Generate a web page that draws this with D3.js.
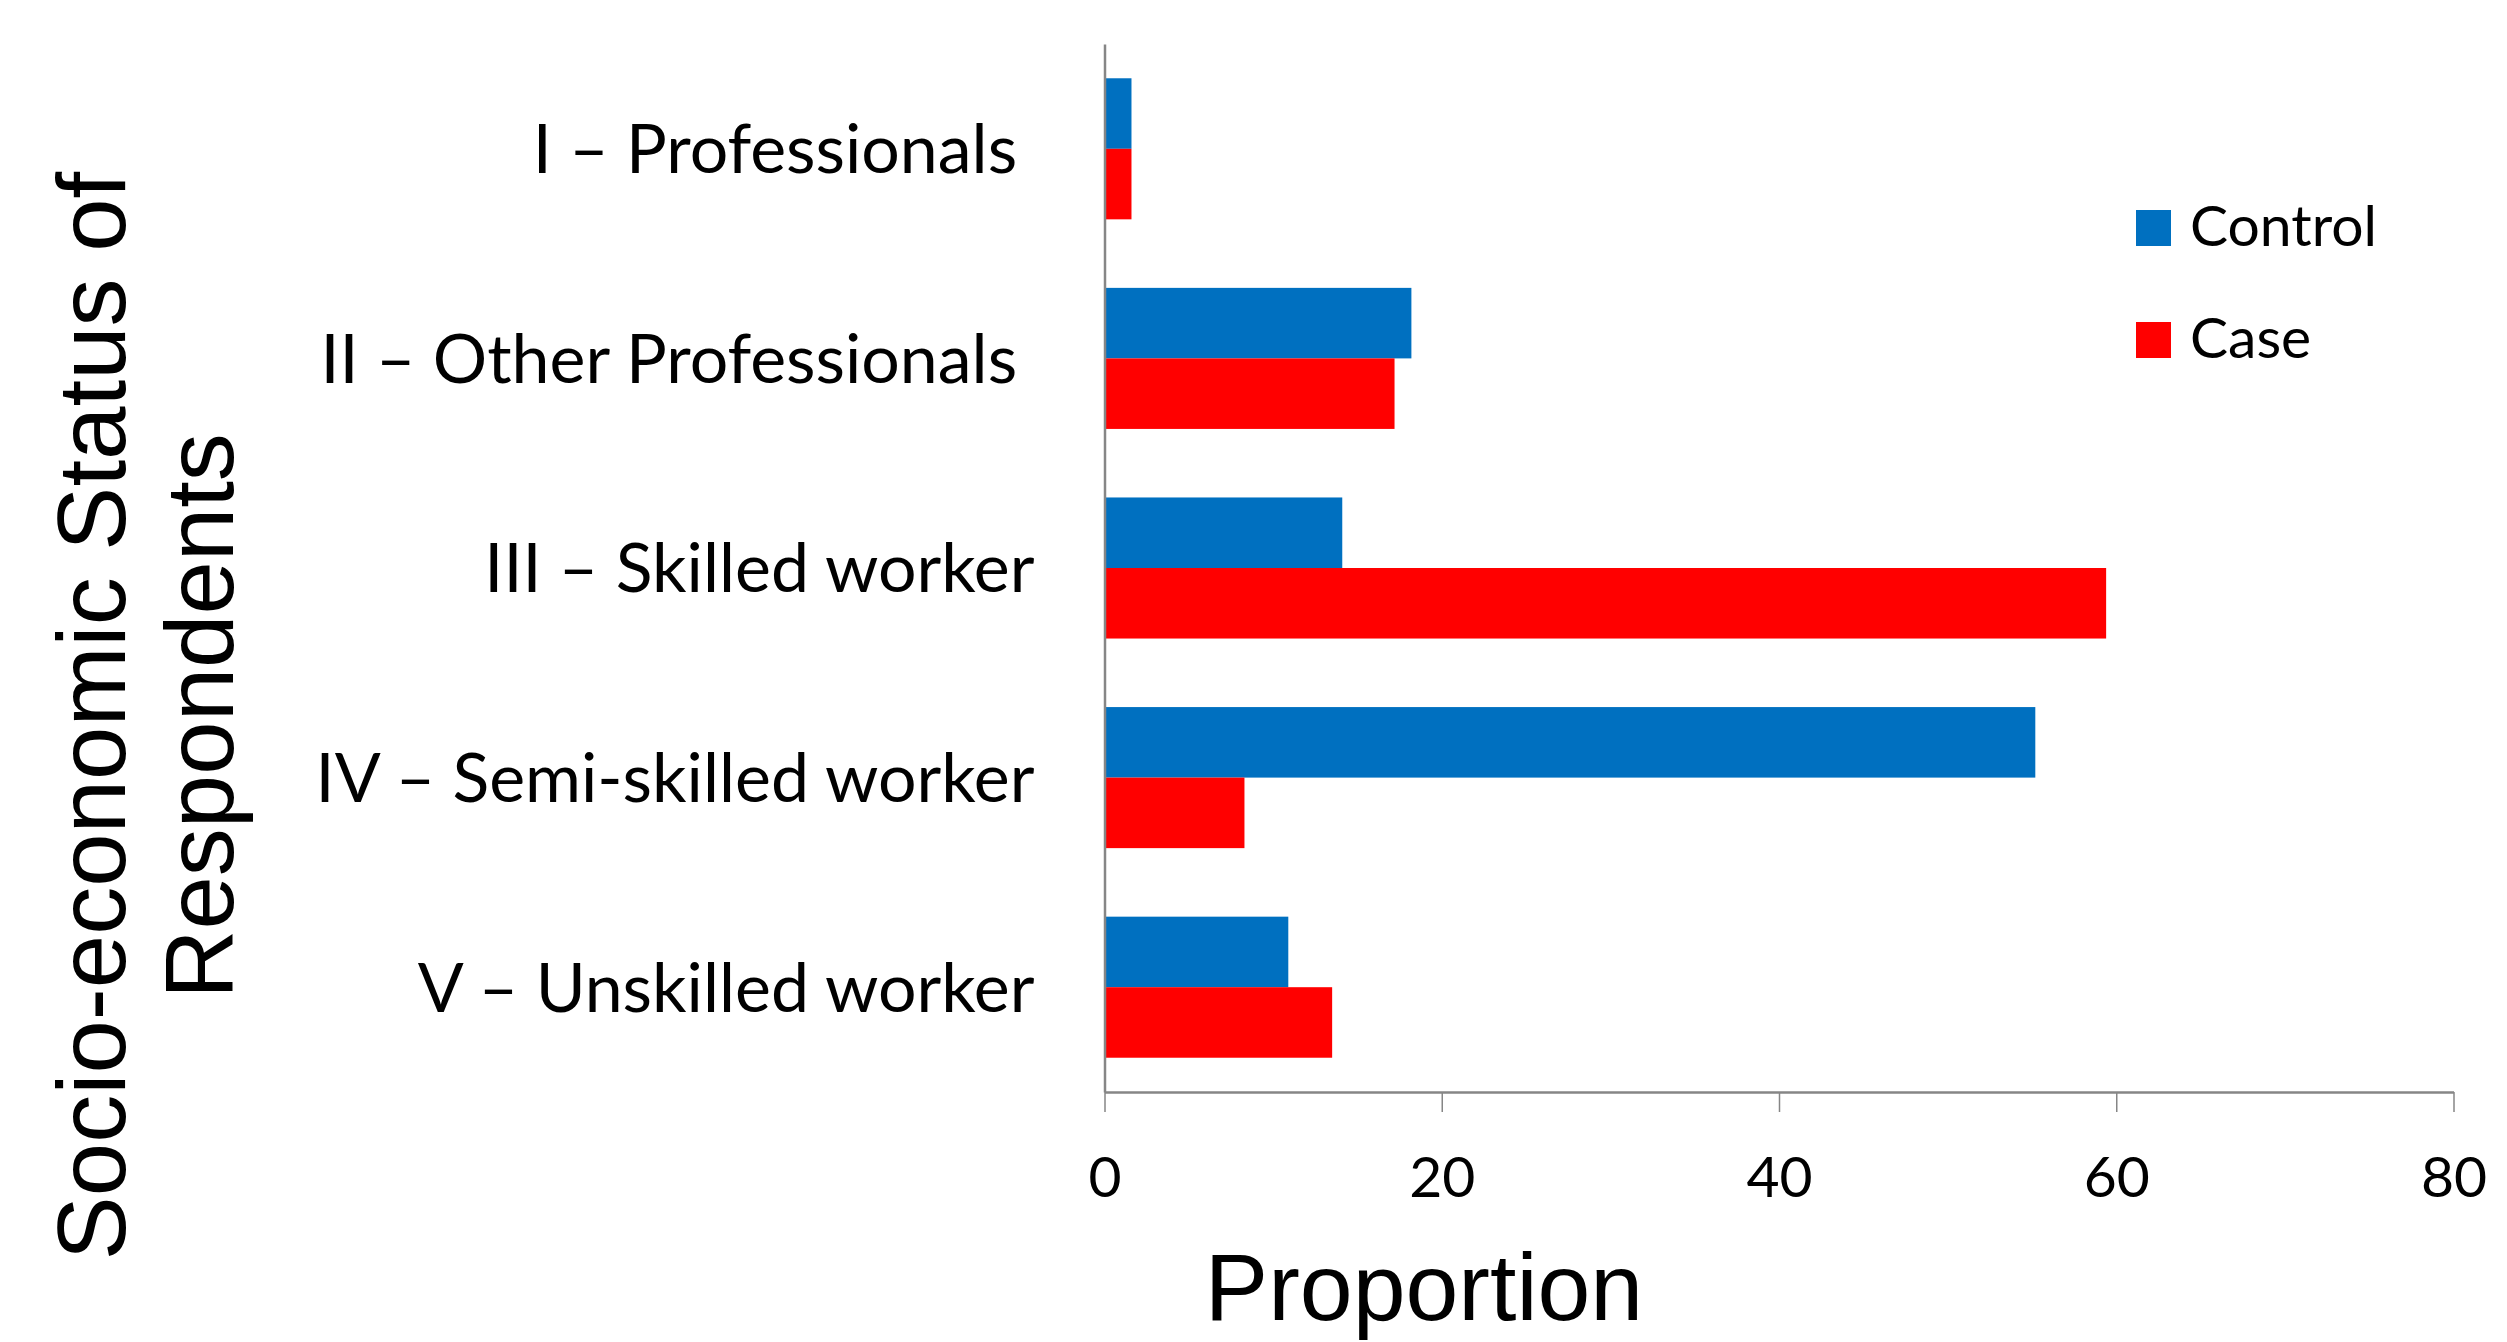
<!DOCTYPE html>
<html>
<head>
<meta charset="utf-8">
<script src="https://cdn.jsdelivr.net/npm/d3@7"></script>
<style>
  html, body { margin: 0; padding: 0; background: #ffffff; }
  svg { display: block; }
</style>
</head>
<body>
<svg id="chart" width="2507" height="1342"></svg>
<script>
// ---- data ----
const categories = [
  "I \u2013 Professionals ",
  "II \u2013 Other Professionals ",
  "III \u2013 Skilled worker",
  "IV \u2013 Semi-skilled worker",
  "V \u2013 Unskilled worker"
];
const seriesNames = ["Control", "Case"];
const controlValues = [1.6, 18.2, 14.1, 55.2, 10.9];
const caseValues = [1.6, 17.2, 59.4, 8.3, 13.5];
const xTicks = [0, 20, 40, 60, 80];
const xTitle = "Proportion";
const yTitleLines = ["Socio-economic Status of", "Respondents"];
const colors = { Control: "#0070C0", Case: "#FF0000" };

// ---- layout ----
const plot = { left: 1104.5, right: 2453.5, top: 44, bottom: 1092 };
const svg = d3.select("#chart");

const x = d3.scaleLinear().domain([0, 80]).range([plot.left, plot.right]);
const y = d3.scaleBand().domain(categories).range([plot.top, plot.bottom])
  .paddingInner(0.327).paddingOuter(0.1635);
const ySub = d3.scaleBand().domain(seriesNames).range([0, y.bandwidth()]);

const rows = categories.map((c, i) => ({ cat: c, Control: controlValues[i], Case: caseValues[i] }));

// bars
const groups = svg.append("g").selectAll("g").data(rows).join("g")
  .attr("transform", d => `translate(0,${y(d.cat)})`);
groups.selectAll("rect")
  .data(d => seriesNames.map(s => ({ s, v: d[s] })))
  .join("rect")
  .attr("x", x(0))
  .attr("y", d => ySub(d.s))
  .attr("width", d => x(d.v) - x(0))
  .attr("height", ySub.bandwidth())
  .attr("fill", d => colors[d.s]);

// x axis
const xAxis = svg.append("g")
  .attr("transform", `translate(0,${plot.bottom})`)
  .call(d3.axisBottom(x).tickValues(xTicks).tickSizeInner(20).tickSizeOuter(0).tickPadding(44));
xAxis.select(".domain").attr("stroke", "#868686").attr("stroke-width", 2.5);
xAxis.selectAll(".tick line").attr("stroke", "#868686").attr("stroke-width", 1.5);
xAxis.selectAll(".tick text")
  .attr("fill", "#000").attr("dy", "0.72em")
  .style("font-family", "Lato, 'Open Sans', sans-serif").style("font-size", "57px");

// y axis
const yAxis = svg.append("g")
  .attr("transform", `translate(${plot.left},0)`)
  .call(d3.axisLeft(y).tickSizeInner(0).tickSizeOuter(0).tickPadding(70));
yAxis.select(".domain").attr("stroke", "#868686").attr("stroke-width", 2.5);
yAxis.selectAll(".tick text")
  .attr("fill", "#000").attr("dy", "0.36em")
  .style("white-space", "pre")
  .style("font-family", "Lato, 'Open Sans', sans-serif").style("font-size", "68px");

// x title
svg.append("text")
  .attr("x", 1424).attr("y", 1320)
  .attr("text-anchor", "middle")
  .style("font-family", "'Liberation Sans', Arial, sans-serif").style("font-size", "95px")
  .attr("fill", "#000")
  .text(xTitle);

// y title (two lines, rotated)
const yTitleBaselines = [125, 233];
yTitleLines.forEach((line, i) => {
  svg.append("text")
    .attr("transform", `translate(${yTitleBaselines[i]},716) rotate(-90)`)
    .attr("text-anchor", "middle")
    .style("font-family", "'Liberation Sans', Arial, sans-serif").style("font-size", "96px")
    .attr("fill", "#000")
    .text(line);
});

// legend
const legend = svg.append("g");
const legendY = d3.scalePoint().domain(seriesNames).range([210, 322]);
seriesNames.forEach(s => {
  legend.append("rect")
    .attr("x", 2136).attr("y", legendY(s))
    .attr("width", 35).attr("height", 36)
    .attr("fill", colors[s]);
  legend.append("text")
    .attr("x", 2190).attr("y", legendY(s) + 36)
    .style("font-family", "Lato, 'Open Sans', sans-serif").style("font-size", "57px")
    .attr("fill", "#000")
    .text(s);
});
</script>
</body>
</html>
